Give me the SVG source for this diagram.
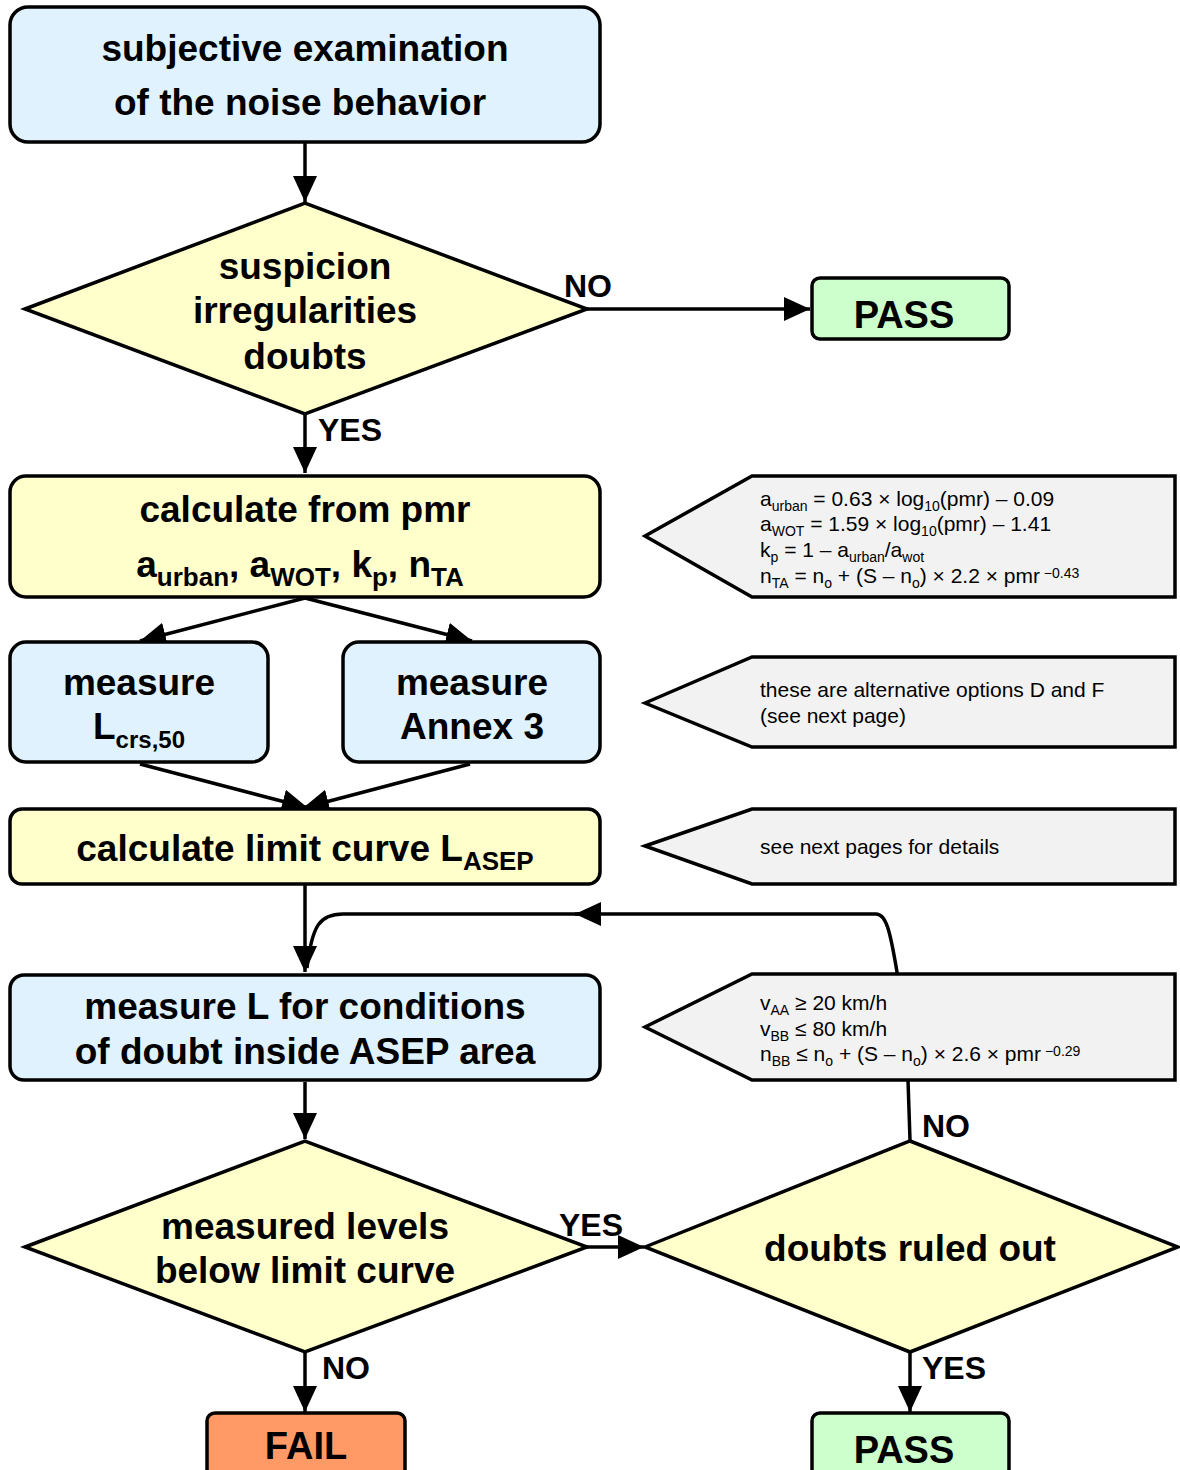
<svg xmlns="http://www.w3.org/2000/svg" width="1180" height="1470" viewBox="0 0 1180 1470">
<defs>
<marker id="ah" markerUnits="userSpaceOnUse" markerWidth="28" markerHeight="24" refX="26" refY="12" orient="auto">
<path d="M0,0 L26,12 L0,24 Z" fill="#000"/>
</marker>
<style>
.b{stroke:#000;stroke-width:3.5}
.blue{fill:#dff2fd}
.yel{fill:#ffffcc}
.grn{fill:#ccffcc}
.org{fill:#ff9966}
.gry{fill:#f2f2f2}
.c{stroke:#000;stroke-width:3.5;fill:none}
.t{font-family:"Liberation Sans",Arial,sans-serif;font-weight:bold;font-size:37px;text-anchor:middle;fill:#000}
.l{font-family:"Liberation Sans",Arial,sans-serif;font-weight:bold;font-size:32px;fill:#000}
.n{font-family:"Liberation Sans",Arial,sans-serif;font-size:21px;fill:#000}
.s{font-size:14px}
</style>
</defs>
<rect width="1180" height="1470" fill="#fff"/>
<g id="connectors">
<line class="c" x1="305" y1="142" x2="305" y2="202" marker-end="url(#ah)"/>
<line class="c" x1="587" y1="309" x2="810" y2="309" marker-end="url(#ah)"/>
<line class="c" x1="305" y1="414" x2="305" y2="473" marker-end="url(#ah)"/>
<line class="c" x1="305" y1="598" x2="140" y2="641" marker-end="url(#ah)"/>
<line class="c" x1="305" y1="598" x2="472" y2="641" marker-end="url(#ah)"/>
<line class="c" x1="140" y1="764" x2="308" y2="808" marker-end="url(#ah)"/>
<line class="c" x1="470" y1="764" x2="303" y2="808" marker-end="url(#ah)"/>
<line class="c" x1="305" y1="884" x2="305" y2="972" marker-end="url(#ah)"/>
<path class="c" d="M910,1140 L908,1080 L897,972 C890,930 886,914 876,914 L575,914"/>
<path class="c" d="M600,914 L575,914" marker-end="url(#ah)"/>
<path class="c" d="M575,914 L343,914 C320,914 312,925 307,968"/>
<line class="c" x1="305" y1="1082" x2="305" y2="1139" marker-end="url(#ah)"/>
<line class="c" x1="587" y1="1247" x2="644" y2="1247" marker-end="url(#ah)"/>
<line class="c" x1="305" y1="1352" x2="305" y2="1412" marker-end="url(#ah)"/>
<line class="c" x1="910" y1="1352" x2="910" y2="1412" marker-end="url(#ah)"/>
<text class="l" x="564" y="297">NO</text>
<text class="l" x="318" y="441">YES</text>
<text class="l" x="559" y="1236">YES</text>
<text class="l" x="922" y="1137">NO</text>
<text class="l" x="322" y="1379">NO</text>
<text class="l" x="922" y="1379">YES</text>
</g>
<g id="start">
<rect class="b blue" x="10" y="7" width="590" height="135" rx="18"/>
<text class="t" x="305" y="61">subjective examination</text>
<text class="t" x="300" y="115">of the noise behavior</text>
</g>
<g id="d1">
<polygon class="b yel" points="25,309 305,203 587,309 305,414"/>
<text class="t" x="305" y="279">suspicion</text>
<text class="t" x="305" y="323">irregularities</text>
<text class="t" x="305" y="369">doubts</text>
</g>
<g id="pass1">
<rect class="b grn" x="812" y="278" width="197" height="61" rx="8"/>
<text class="t" x="904" y="328" style="font-size:38px">PASS</text>
</g>
<g id="calc">
<rect class="b yel" x="10" y="476" width="590" height="121" rx="16"/>
<text class="t" x="305" y="522">calculate from pmr</text>
<text class="t" x="300" y="577">a<tspan dy="9" font-size="26">urban</tspan><tspan dy="-9">, a</tspan><tspan dy="9" font-size="26">WOT</tspan><tspan dy="-9">, k</tspan><tspan dy="9" font-size="26">p</tspan><tspan dy="-9">, n</tspan><tspan dy="9" font-size="26">TA</tspan></text>
</g>
<g id="note1">
<polygon class="b gry" points="645,536 752,476 1175,476 1175,597 752,597"/>
<text class="n" x="760" y="506">a<tspan class="s" dy="5">urban</tspan><tspan dy="-5"> = 0.63 × log</tspan><tspan class="s" dy="5">10</tspan><tspan dy="-5">(pmr) – 0.09</tspan></text>
<text class="n" x="760" y="531">a<tspan class="s" dy="5">WOT</tspan><tspan dy="-5"> = 1.59 × log</tspan><tspan class="s" dy="5">10</tspan><tspan dy="-5">(pmr) – 1.41</tspan></text>
<text class="n" x="760" y="557">k<tspan class="s" dy="5">p</tspan><tspan dy="-5"> = 1 – a</tspan><tspan class="s" dy="5">urban</tspan><tspan dy="-5">/a</tspan><tspan class="s" dy="5">wot</tspan></text>
<text class="n" x="760" y="583">n<tspan class="s" dy="5">TA</tspan><tspan dy="-5"> = n</tspan><tspan class="s" dy="5">o</tspan><tspan dy="-5"> + (S – n</tspan><tspan class="s" dy="5">o</tspan><tspan dy="-5">) × 2.2 × pmr</tspan><tspan class="s" dy="-5"> −0.43</tspan></text>
</g>
<g id="measL">
<rect class="b blue" x="10" y="642" width="258" height="120" rx="16"/>
<text class="t" x="139" y="695">measure</text>
<text class="t" x="139" y="739">L<tspan dy="9" font-size="24">crs,50</tspan></text>
</g>
<g id="measA">
<rect class="b blue" x="343" y="642" width="257" height="120" rx="16"/>
<text class="t" x="472" y="695">measure</text>
<text class="t" x="472" y="739">Annex 3</text>
</g>
<g id="note2">
<polygon class="b gry" points="645,703 752,657 1175,657 1175,747 752,747"/>
<text class="n" x="760" y="697">these are alternative options D and F</text>
<text class="n" x="760" y="723">(see next page)</text>
</g>
<g id="limit">
<rect class="b yel" x="10" y="809" width="590" height="75" rx="12"/>
<text class="t" x="305" y="861">calculate limit curve L<tspan dy="9" font-size="26">ASEP</tspan></text>
</g>
<g id="note3">
<polygon class="b gry" points="645,846 752,809 1175,809 1175,884 752,884"/>
<text class="n" x="760" y="854">see next pages for details</text>
</g>
<g id="measure">
<rect class="b blue" x="10" y="975" width="590" height="105" rx="14"/>
<text class="t" x="305" y="1019">measure L for conditions</text>
<text class="t" x="305" y="1064">of doubt inside ASEP area</text>
</g>
<g id="note4">
<polygon class="b gry" points="645,1027 752,974 1175,974 1175,1080 752,1080"/>
<text class="n" x="760" y="1010">v<tspan class="s" dy="5">AA</tspan><tspan dy="-5"> ≥ 20 km/h</tspan></text>
<text class="n" x="760" y="1036">v<tspan class="s" dy="5">BB</tspan><tspan dy="-5"> ≤ 80 km/h</tspan></text>
<text class="n" x="760" y="1061">n<tspan class="s" dy="5">BB</tspan><tspan dy="-5"> ≤ n</tspan><tspan class="s" dy="5">o</tspan><tspan dy="-5"> + (S – n</tspan><tspan class="s" dy="5">o</tspan><tspan dy="-5">) × 2.6 × pmr</tspan><tspan class="s" dy="-5"> −0.29</tspan></text>
</g>
<g id="d2">
<polygon class="b yel" points="25,1247 305,1141 587,1247 305,1352"/>
<text class="t" x="305" y="1239">measured levels</text>
<text class="t" x="305" y="1283">below limit curve</text>
</g>
<g id="d3">
<polygon class="b yel" points="645,1247 910,1141 1178,1247 910,1352"/>
<text class="t" x="910" y="1261">doubts ruled out</text>
</g>
<g id="fail">
<rect class="b org" x="207" y="1413" width="198" height="75" rx="8"/>
<text class="t" x="306" y="1459" style="font-size:38px">FAIL</text>
</g>
<g id="pass2">
<rect class="b grn" x="812" y="1413" width="197" height="75" rx="8"/>
<text class="t" x="904" y="1463" style="font-size:38px">PASS</text>
</g>
</svg>
